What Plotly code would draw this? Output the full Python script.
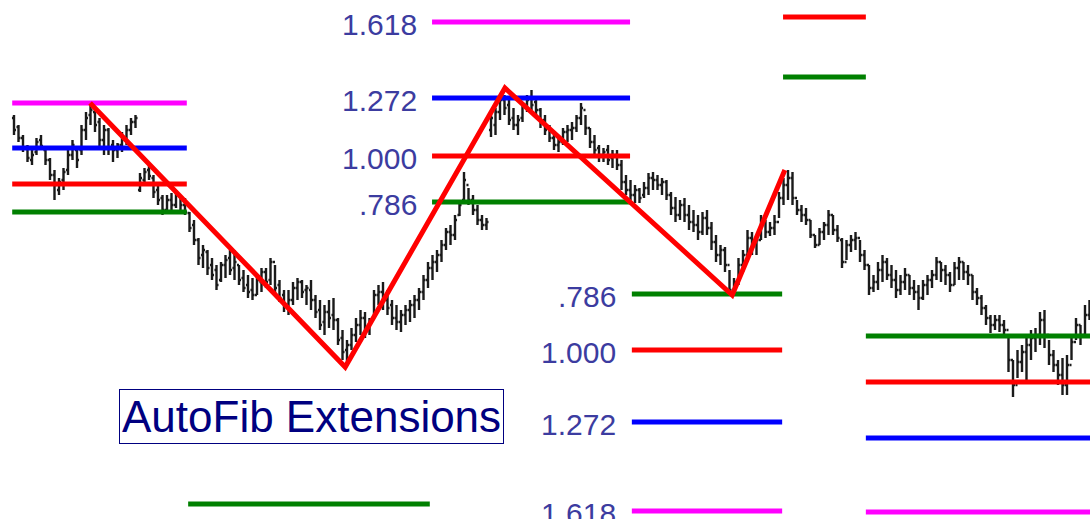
import plotly.graph_objects as go

# ---- price bars (open, high, low, close); the price scale runs top-down ----
seg_a = [(118,115,135,130),(127,125,142,138),(138,135,152,148),(147,145,162,158),(160,150,165,155),
         (152,138,155,142),(140,135,150,146),(150,148,165,160),(160,158,180,175),(175,170,200,185),
         (190,178,195,182),(180,168,190,172),(170,150,175,155),(155,140,160,145),(150,148,168,160),
         (150,125,155,130),(130,112,140,118),(115,104,125,110),(112,110,132,125),(122,118,148,140),
         (140,125,155,130),(130,128,155,148),(145,140,162,150),(150,143,158,145),(145,132,152,138),
         (138,125,145,130),(130,118,135,122),(122,115,128,118)]
seg_b = [(190,173,192,178),(180,168,185,172),(170,165,180,176),(178,175,198,192),(190,185,205,200),
         (198,195,215,210),(210,195,212,200),(200,193,210,205),(205,190,208,195),(196,195,212,205),
         (205,198,215,212),(213,212,232,228),(225,220,245,240),(240,238,265,258),(255,245,268,250),
         (252,250,275,268),(265,258,280,275),(270,265,290,285),(280,262,282,265),(265,255,278,260),
         (258,250,275,270),(268,250,280,262),(265,265,285,280),(278,270,292,288),(285,275,298,292),
         (290,278,300,295),(295,275,295,280),(282,268,292,272),(272,268,288,282),(280,258,285,262),
         (262,265,295,288),(285,280,302,298),(295,290,312,305),(305,290,315,300),(300,282,305,288),
         (288,278,300,282),(282,280,298,292),(290,285,305,288),(290,280,310,300),(300,295,318,312),
         (310,300,330,325),(322,305,335,312),(312,300,328,318),(315,298,330,320),(320,318,345,340),
         (338,330,360,352),(350,340,366,345),(345,328,350,335),(335,318,342,325),(325,310,335,318),
         (318,312,338,330),(330,318,335,322),(318,290,318,295),(295,285,305,292),(292,282,310,300),
         (300,290,315,308),(305,300,325,318),(318,305,330,322),(322,310,332,315),(315,305,325,310),
         (310,300,322,305),(305,295,318,300),(300,288,310,292),(292,275,300,280),(280,262,288,268),
         (268,255,280,262),(262,250,272,255),(255,240,262,245),(245,228,250,232),(232,225,245,235),
         (235,215,240,220),(215,200,216,205),(200,172,200,180),(185,188,205,200),(200,195,215,210),
         (210,205,225,220),(220,215,230,225),(225,218,230,222)]
seg_c = [(130,112,137,118),(125,108,135,112),(112,98,120,100),(100,95,115,108),(105,100,125,120),
         (118,108,130,125),(125,115,135,120),(118,102,122,105),(105,95,112,100),(98,90,110,105),
         (102,98,115,110),(110,108,128,122),(120,115,135,130),(128,125,142,138),(138,135,150,145),
         (145,138,152,142),(142,128,145,132),(132,125,142,130),(130,122,140,128),(128,115,132,118),
         (118,103,125,108),(110,115,135,128),(128,128,148,142),(142,135,155,150),(148,145,162,155),
         (155,148,162,152),(150,145,165,160),(158,150,168,155),(155,150,170,165),(165,160,190,182),
         (182,175,195,190),(190,180,200,195),(195,185,203,190),(190,188,203,198),(195,182,198,188),
         (188,173,195,178),(178,172,190,180),(180,175,190,185),(185,178,195,182),(182,180,200,195),
         (195,192,215,208),(208,197,222,215),(215,200,220,205),(205,198,222,215),(215,205,230,222),
         (222,210,232,225),(225,215,240,232),(232,212,235,218),(218,210,235,228),(228,222,250,242),
         (242,235,262,255),(255,245,265,250),(250,247,272,265),(265,270,296,290),(290,278,294,282),
         (282,258,285,265),(265,250,272,255),(255,230,262,238),(238,232,255,242),(242,235,255,240),
         (240,215,240,222),(222,220,238,232),(232,222,236,228),(228,215,235,222),(222,192,218,198),
         (198,178,205,185),(185,170,200,178),(178,172,205,198)]
seg_d = [(198,200,215,210),(210,205,222,215),(215,208,225,220),(220,220,238,235),(235,235,248,245),
         (245,228,245,232),(232,222,240,225),(225,210,235,215),(215,215,235,230),(230,225,242,238),
         (240,238,268,262),(262,240,260,245),(245,235,252,240),(240,232,250,238),(238,240,262,255),
         (255,250,270,265),(265,265,295,288),(288,275,292,282),(282,262,290,270),(270,255,282,262),
         (262,258,280,275),(275,265,288,280),(280,270,298,290),(290,275,295,282),(282,268,290,275),
         (275,275,295,288),(288,280,300,292),(292,285,310,298),(298,280,300,285),(285,275,295,280),
         (280,270,288,275),(275,257,280,262),(262,262,282,270),(270,265,285,275),(275,272,292,285),
         (285,262,285,268),(268,257,280,262),(262,262,280,272),(272,265,285,275),(275,275,300,292),
         (292,288,305,298),(298,295,315,308),(308,305,325,318),(318,315,333,325),(325,315,330,320),
         (320,315,332,325),(325,320,335,330),(330,335,372,360),(360,360,397,385),(385,350,378,362),
         (362,345,372,352),(352,338,380,345),(345,330,360,338),(338,328,352,335),(335,312,345,320),
         (320,310,348,335),(335,340,365,355),(355,350,372,365),(365,360,385,375),(375,358,395,385),
         (385,355,395,365),(365,335,360,342),(342,318,340,325),(325,325,345,335),(335,305,335,315),
         (315,300,320,305)]

# ---- zigzag swing points (bar number, price) ----
zig_x = [16.9, 73.6, 109.1, 159.6, 171.3]
zig_y = [103, 367, 88, 295, 170]

# ---- fib extension levels: (start bar, end bar, [(ratio label, price)], show labels) ----
level_colors = {"1.618": "#ff00ff", "1.272": "#0000ff", "1.000": "#ff0000", ".786": "#008000"}
fib_groups = [
    (-0.4, 38.4, [("1.618", 103), ("1.272", 148), ("1.000", 184), (".786", 212)], False),
    (38.7, 92.4, [(".786", 504)], False),
    (92.9, 136.9, [("1.618", 22), ("1.272", 98), ("1.000", 156), (".786", 202)], True),
    (170.9, 189.3, [("1.000", 17), (".786", 77)], False),
    (137.3, 170.7, [(".786", 294), ("1.000", 350), ("1.272", 422), ("1.618", 511)], True),
    (189.3, 240.0, [(".786", 336), ("1.000", 382), ("1.272", 438), ("1.618", 512)], False),
]
label_gap = 3.0  # bars between label end and line start

title_text = "AutoFib Extensions"

bars = seg_a + seg_b + seg_c + seg_d
bar_x = list(range(len(bars)))
opens = [b[0] for b in bars]
highs = [b[1] for b in bars]
lows = [b[2] for b in bars]
closes = [b[3] for b in bars]

fig = go.Figure()
fig.add_trace(go.Ohlc(
    x=bar_x, open=opens, high=highs, low=lows, close=closes,
    increasing=dict(line=dict(color="#1a1a1a", width=2.4)),
    decreasing=dict(line=dict(color="#1a1a1a", width=2.4)),
    tickwidth=0.45, hoverinfo="skip", showlegend=False))

annotations = []
for x0, x1, levels, show in fib_groups:
    for lab, y in levels:
        fig.add_trace(go.Scatter(x=[x0, x1], y=[y, y], mode="lines",
                                 line=dict(color=level_colors[lab], width=5),
                                 hoverinfo="skip", showlegend=False))
        if show:
            annotations.append(dict(x=x0 - label_gap, y=y + 2, text=lab, showarrow=False,
                                    xanchor="right", yanchor="middle",
                                    font=dict(family="Liberation Sans, Arial", size=30, color="#3c3ca0")))

fig.add_trace(go.Scatter(x=zig_x, y=zig_y, mode="lines",
                         line=dict(color="#ff0000", width=5),
                         hoverinfo="skip", showlegend=False))

annotations.append(dict(x=66, y=416, text=title_text, showarrow=False,
                        xanchor="center", yanchor="middle",
                        font=dict(family="Liberation Sans, Arial", size=44, color="#000080"),
                        bordercolor="#000080", borderwidth=1, borderpad=2, bgcolor="rgba(0,0,0,0)"))

fig.update_layout(
    width=1090, height=519,
    margin=dict(l=0, r=0, t=0, b=0),
    paper_bgcolor="white", plot_bgcolor="white",
    showlegend=False,
    annotations=annotations,
    xaxis=dict(range=[-3.111, 239.111], visible=False, showgrid=False, zeroline=False,
               rangeslider=dict(visible=False)),
    yaxis=dict(range=[519, 0], visible=False, showgrid=False, zeroline=False),
)

fig.write_html("out.html", config={"displayModeBar": False},
               post_script="document.body.style.margin='0';document.body.style.overflow='hidden';")
